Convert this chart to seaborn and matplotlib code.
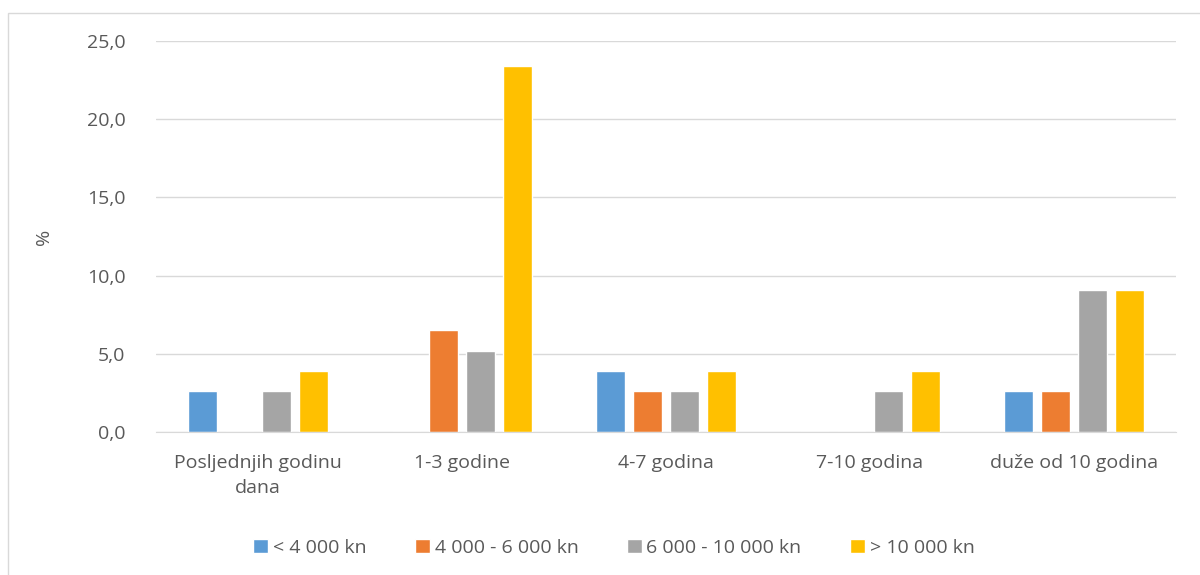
import pandas as pd
import matplotlib.pyplot as plt
import seaborn as sns
from matplotlib.patches import Rectangle

# Data
categories = ["Posljednjih godinu\ndana", "1-3 godine", "4-7 godina", "7-10 godina", "duže od 10 godina"]
groups = ["< 4 000 kn", "4 000 - 6 000 kn", "6 000 - 10 000 kn", "> 10 000 kn"]
vals_lt4000 = [2.6, 0.0, 3.9, 0.0, 2.6]
vals_4000_6000 = [0.0, 6.5, 2.6, 0.0, 2.6]
vals_6000_10000 = [2.6, 5.2, 2.6, 2.6, 9.1]
vals_gt10000 = [3.9, 23.4, 3.9, 3.9, 9.1]
colors = ["#5B9BD5", "#ED7D31", "#A5A5A5", "#FFC000"]

rows = []
for g, vals in zip(groups, [vals_lt4000, vals_4000_6000, vals_6000_10000, vals_gt10000]):
    for c, v in zip(categories, vals):
        rows.append({"Kategorija": c, "Grupa": g, "Vrijednost": v})
df = pd.DataFrame(rows)

sns.set_style("white")
plt.rcParams["font.family"] = ["Open Sans", "DejaVu Sans"]
text_col = "#595959"

fig = plt.figure(figsize=(12, 5.75), dpi=100)
ax = fig.add_axes([156 / 1200, 1 - 432 / 575, (1176 - 156) / 1200, (432 - 41) / 575])

sns.barplot(data=df, x="Kategorija", y="Vrijednost", hue="Grupa", hue_order=groups,
            order=categories, palette=colors, width=0.725, gap=0.22, ax=ax,
            saturation=1, errorbar=None)

ax.set_ylim(0, 25)
ax.set_yticks([0, 5, 10, 15, 20, 25])
ax.set_yticklabels([f"{t:.1f}".replace(".", ",") for t in [0, 5, 10, 15, 20, 25]])
ax.yaxis.grid(True, color="#D9D9D9", linewidth=1)
ax.set_axisbelow(True)
for s in ["top", "right", "left"]:
    ax.spines[s].set_visible(False)
ax.spines["bottom"].set_color("#D9D9D9")
ax.tick_params(axis="both", length=0, labelsize=14, colors=text_col)
ax.tick_params(axis="x", pad=16)
ax.tick_params(axis="y", pad=22)
for lbl in ax.get_xticklabels():
    lbl.set_linespacing(1.45)
ax.set_xlabel("")
ax.set_ylabel("%", fontsize=14, color=text_col, labelpad=24)

ax.legend(loc="upper center", bbox_to_anchor=(0.449, -0.228), ncol=4, frameon=False,
          fontsize=14, labelcolor=text_col, handlelength=0.75, handleheight=0.75,
          handletextpad=0.25, columnspacing=2.5)

# chart area border
fig.patches.append(Rectangle((8 / 1200, -0.1), 1.2, 1 - 13 / 575 + 0.1, transform=fig.transFigure,
                             fill=False, edgecolor="#D9D9D9", linewidth=1))

fig.savefig("out.png", dpi=100)
